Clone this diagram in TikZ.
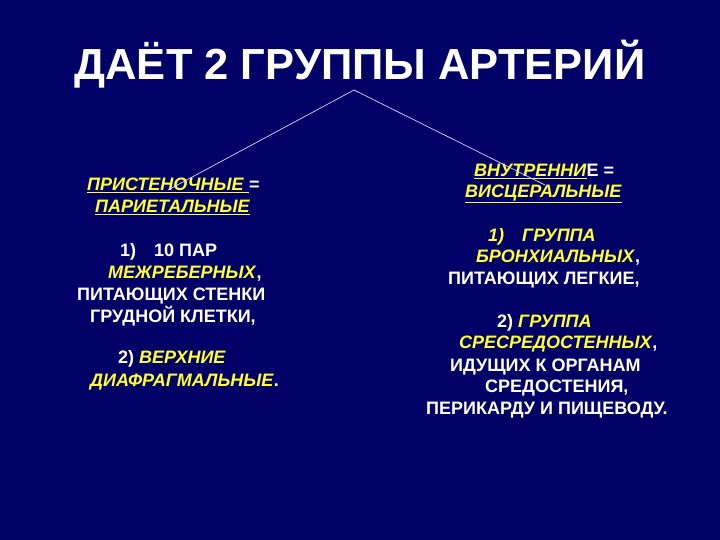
\documentclass[tikz,border=0pt]{standalone}
\usepackage{fontspec}
\setmainfont{Liberation Sans}
\definecolor{navy}{RGB}{0,0,102}
\definecolor{hl}{RGB}{255,255,51}
\definecolor{linecol}{RGB}{215,215,255}
\newcommand{\hy}[1]{\textcolor{hl}{\textit{#1}}}
\newcommand{\hu}[1]{\textcolor{hl}{\underline{\textit{#1}}}}

\begin{document}
\begin{tikzpicture}[
		x=1pt, y=-1pt,
		txt/.style={anchor=base west, inner sep=0pt, text=white, font=\fontsize{18}{20}\selectfont\bfseries},
	]
	\fill[navy] (0,0) rectangle (720,540);
	\useasboundingbox (0,0) rectangle (720,540);
	% title
	\node[anchor=base, inner sep=0pt, text=white, font=\fontsize{43.5}{48}\selectfont\bfseries] (title) at (360,80) {ДАЁТ 2 ГРУППЫ АРТЕРИЙ};
	% left column
	\node[txt] (par1) at (87,191) {\hu{ПРИСТЕНОЧНЫЕ }=};
	\node[txt] (par2) at (95,213) {\hu{ПАРИЕТАЛЬНЫЕ}};
	\node[txt] (par3) at (120,256) {1)\hspace{1em}10 ПАР};
	\node[txt] (par4) at (108,278) {\hy{МЕЖРЕБЕРНЫХ},};
	\node[txt] (par5) at (77,300) {ПИТАЮЩИХ СТЕНКИ};
	\node[txt] (par6) at (90,322) {ГРУДНОЙ КЛЕТКИ,};
	\node[txt] (par7) at (118,363) {2) \hy{ВЕРХНИЕ}};
	\node[txt] (par8) at (90,386) {\hy{ДИАФРАГМАЛЬНЫЕ}.};
	% right column
	\node[txt] (vis1) at (474,177) {\hu{ВНУТРЕННИ}Е =};
	\node[txt] (vis2) at (465,197) {\hu{ВИСЦЕРАЛЬНЫЕ}};
	\node[txt] (vis3) at (488,241) {\hy{1)\hspace{1em}ГРУППА}};
	\node[txt] (vis4) at (476,262) {\hy{БРОНХИАЛЬНЫХ},};
	\node[txt] (vis5) at (448,284) {ПИТАЮЩИХ ЛЕГКИЕ,};
	\node[txt] (vis6) at (497,327) {2) \hy{ГРУППА}};
	\node[txt] (vis7) at (459,348) {\hy{СРЕСРЕДОСТЕННЫХ},};
	\node[txt] (vis8) at (450,371) {ИДУЩИХ К ОРГАНАМ};
	\node[txt] (vis9) at (485,392) {СРЕДОСТЕНИЯ,};
	\node[txt] (vis10) at (426,414) {ПЕРИКАРДУ И ПИЩЕВОДУ.};
	% branches
	\coordinate (top) at (354,90);
	\coordinate (lend) at (168,190);
	\coordinate (rend) at (545,185);
	\draw[linecol, line width=0.7pt] (lend) -- (top) -- (rend);
\end{tikzpicture}
\end{document}
